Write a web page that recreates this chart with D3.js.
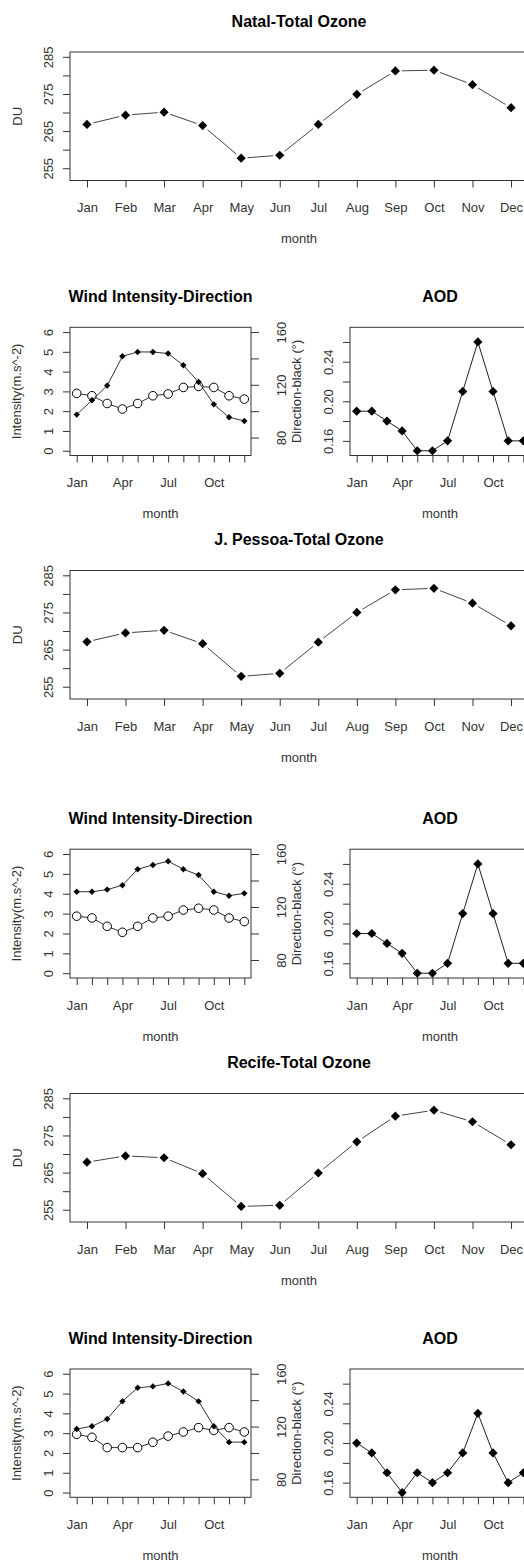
<!DOCTYPE html>
<html>
<head>
<meta charset="utf-8">
<script src="https://cdn.jsdelivr.net/npm/d3@7"></script>
<style>
  body { margin: 0; background: #fff; }
  svg { display: block; background: #fff; }
</style>
</head>
<body>
<svg width="524" height="1562"></svg>
<script>
var FONT = "'Liberation Sans', Arial, sans-serif";

// ---- data ----
var months = ["Jan", "Feb", "Mar", "Apr", "May", "Jun", "Jul", "Aug", "Sep", "Oct", "Nov", "Dec"];
var monthNums = d3.range(1, 13);
var shortMonthLabels = ["Jan", "Apr", "Jul", "Oct"];

var natalOzone = [266.8, 269.3, 270.1, 266.5, 257.7, 258.5, 266.8, 274.9, 281.2, 281.4, 277.5, 271.3];
var pessoaOzone = [267.1, 269.5, 270.2, 266.6, 257.8, 258.6, 267.0, 275.0, 281.1, 281.5, 277.5, 271.4];
var recifeOzone = [267.8, 269.5, 269.0, 264.7, 255.9, 256.2, 264.9, 273.3, 280.2, 281.8, 278.7, 272.5];

var natalIntensity = [2.90, 2.78, 2.39, 2.11, 2.39, 2.78, 2.87, 3.20, 3.25, 3.20, 2.78, 2.61];
var natalDirection = [97.4, 108.3, 119.4, 141.6, 144.9, 144.9, 143.7, 134.8, 122.1, 105.2, 95.4, 92.6];
var pessoaIntensity = [2.87, 2.78, 2.36, 2.06, 2.36, 2.78, 2.87, 3.18, 3.27, 3.18, 2.78, 2.60];
var pessoaDirection = [131.5, 131.5, 133.1, 136.4, 148.5, 151.7, 154.5, 148.5, 144.1, 131.5, 128.5, 130.3];
var recifeIntensity = [2.94, 2.79, 2.27, 2.27, 2.27, 2.54, 2.85, 3.06, 3.28, 3.14, 3.28, 3.06];
var recifeDirection = [118.2, 120.2, 125.7, 139.1, 149.4, 150.4, 152.7, 146.6, 139.1, 120.2, 108.2, 108.2];

var natalAOD = [0.19, 0.19, 0.18, 0.17, 0.15, 0.15, 0.16, 0.21, 0.26, 0.21, 0.16, 0.16];
var pessoaAOD = [0.19, 0.19, 0.18, 0.17, 0.15, 0.15, 0.16, 0.21, 0.26, 0.21, 0.16, 0.16];
var recifeAOD = [0.20, 0.19, 0.17, 0.15, 0.17, 0.16, 0.17, 0.19, 0.23, 0.19, 0.16, 0.17];

var ozoneTicks = [255, 260, 265, 270, 275, 280, 285];
var ozoneLabels = [255, 265, 275, 285];
var intensityTicks = [0, 1, 2, 3, 4, 5, 6];
var directionTicks = [80, 100, 120, 140, 160];
var directionLabels = [80, 120, 160];
var aodTicks = [0.16, 0.18, 0.20, 0.22, 0.24, 0.26];
var aodLabels = [0.16, 0.20, 0.24];

var svg = d3.select("svg");

// ---- helpers ----
function monthScale(x0, x1) {
  return d3.scaleLinear().domain([1 - 0.44, 12 + 0.44]).range([x0, x1]);
}

function frame(x0, x1, top, bottom, title, xLabels) {
  var x = monthScale(x0, x1);
  var g = svg.append("g");
  g.append("text")
    .attr("x", (x0 + x1) / 2).attr("y", top - 30.8).attr("dy", "0.35em")
    .attr("text-anchor", "middle").attr("font-family", FONT)
    .attr("font-size", 16).attr("font-weight", "bold").attr("fill", "#000")
    .text(title);
  var ax = g.append("g").attr("transform", "translate(0," + bottom + ")")
    .call(d3.axisBottom(x).tickValues(monthNums).tickSize(7).tickSizeOuter(0)
      .tickFormat(function (d) {
        var m = months[d - 1];
        return xLabels.indexOf(m) >= 0 ? m : "";
      }));
  ax.attr("font-family", FONT).attr("font-size", 13).attr("color", "#333");
  ax.select(".domain").remove();
  ax.selectAll("text").attr("y", 27.3).attr("dy", "0.35em");
  g.append("text")
    .attr("x", (x0 + x1) / 2).attr("y", bottom + 58.3).attr("dy", "0.35em")
    .attr("text-anchor", "middle").attr("font-family", FONT)
    .attr("font-size", 13).attr("fill", "#333")
    .text("month");
  g.append("rect")
    .attr("x", x0).attr("y", top).attr("width", x1 - x0).attr("height", bottom - top)
    .attr("fill", "none").attr("stroke", "#333").attr("stroke-width", 1);
  return { g: g, x: x };
}

function leftAxis(g, x0, y, ticks, labels, fmt) {
  var ax = g.append("g").attr("transform", "translate(" + x0 + ",0)")
    .call(d3.axisLeft(y).tickValues(ticks).tickSize(7)
      .tickFormat(function (d) { return labels.indexOf(d) >= 0 ? fmt(d) : ""; }));
  ax.attr("font-family", FONT).attr("font-size", 13).attr("color", "#333");
  ax.select(".domain").remove();
  ax.selectAll("text").attr("transform", "rotate(-90)")
    .attr("x", 0).attr("y", -17.5).attr("dy", 0).attr("text-anchor", "middle");
}

function rightAxis(g, x1, y, ticks, labels, fmt) {
  var ax = g.append("g").attr("transform", "translate(" + x1 + ",0)")
    .call(d3.axisRight(y).tickValues(ticks).tickSize(8)
      .tickFormat(function (d) { return labels.indexOf(d) >= 0 ? fmt(d) : ""; }));
  ax.attr("font-family", FONT).attr("font-size", 13).attr("color", "#333");
  ax.select(".domain").remove();
  ax.selectAll("text").attr("transform", "rotate(-90)")
    .attr("x", 0).attr("y", 35.2).attr("dy", 0).attr("text-anchor", "middle");
}

function vLabel(g, cx, cy, txt) {
  g.append("text")
    .attr("transform", "translate(" + (cx + 4.5) + "," + cy + ") rotate(-90)")
    .attr("text-anchor", "middle").attr("font-family", FONT)
    .attr("font-size", 13).attr("fill", "#333")
    .text(txt);
}

function diamond(r) {
  return "M0," + (-r) + "L" + r + ",0L0," + r + "L" + (-r) + ",0Z";
}

// line with small gaps around every point (R type = "b")
function gapLine(g, pts, gap, color) {
  for (var i = 0; i < pts.length - 1; i++) {
    var a = pts[i], b = pts[i + 1];
    var dx = b[0] - a[0], dy = b[1] - a[1];
    var len = Math.sqrt(dx * dx + dy * dy);
    if (len <= 2 * gap) continue;
    var ux = dx / len, uy = dy / len;
    g.append("line")
      .attr("x1", a[0] + ux * gap).attr("y1", a[1] + uy * gap)
      .attr("x2", b[0] - ux * gap).attr("y2", b[1] - uy * gap)
      .attr("stroke", color).attr("stroke-width", 1);
  }
}

function ozonePanel(top, bottom, title, values) {
  var f = frame(70, 528, top, bottom, title, months);
  var y = d3.scaleLinear().domain([251.7, 286.3]).range([bottom, top]);
  leftAxis(f.g, 70, y, ozoneTicks, ozoneLabels, d3.format("d"));
  vLabel(f.g, 17, (top + bottom) / 2, "DU");
  var pts = values.map(function (v, i) { return [f.x(i + 1), y(v)]; });
  gapLine(f.g, pts, 6.5, "#444");
  f.g.selectAll(".pt").data(pts).enter().append("path")
    .attr("transform", function (d) { return "translate(" + d[0] + "," + d[1] + ")"; })
    .attr("d", diamond(4.6)).attr("fill", "#000");
}

function windPanel(top, bottom, intensity, direction) {
  var f = frame(70, 251, top, bottom, "Wind Intensity-Direction", shortMonthLabels);
  var yL = d3.scaleLinear().domain([-0.24, 6.24]).range([bottom, top]);
  var yR = d3.scaleLinear().domain([66.4, 163.6]).range([bottom, top]);
  leftAxis(f.g, 70, yL, intensityTicks, intensityTicks, d3.format("d"));
  rightAxis(f.g, 251, yR, directionTicks, directionLabels, d3.format("d"));
  vLabel(f.g, 16.7, (top + bottom) / 2, "Intensity(m.s^-2)");
  vLabel(f.g, 296.7, (top + bottom) / 2, "Direction-black (°)");

  var line = d3.line().x(function (d, i) { return f.x(i + 1); });
  f.g.append("path").datum(intensity)
    .attr("d", line.y(function (d) { return yL(d); }))
    .attr("fill", "none").attr("stroke", "#333").attr("stroke-width", 1);
  f.g.selectAll(".open").data(intensity).enter().append("circle")
    .attr("cx", function (d, i) { return f.x(i + 1); })
    .attr("cy", function (d) { return yL(d); })
    .attr("r", 4.3).attr("fill", "#fff").attr("stroke", "#000").attr("stroke-width", 1);

  f.g.append("path").datum(direction)
    .attr("d", line.y(function (d) { return yR(d); }))
    .attr("fill", "none").attr("stroke", "#333").attr("stroke-width", 1);
  f.g.selectAll(".filled").data(direction).enter().append("path")
    .attr("transform", function (d, i) { return "translate(" + f.x(i + 1) + "," + yR(d) + ")"; })
    .attr("d", diamond(3.2)).attr("fill", "#000");
}

function aodPanel(top, bottom, values) {
  var f = frame(350, 530, top, bottom, "AOD", shortMonthLabels);
  var y = d3.scaleLinear().domain([0.1452, 0.2748]).range([bottom, top]);
  leftAxis(f.g, 350, y, aodTicks, aodLabels, d3.format(".2f"));
  var line = d3.line()
    .x(function (d, i) { return f.x(i + 1); })
    .y(function (d) { return y(d); });
  f.g.append("path").datum(values)
    .attr("d", line).attr("fill", "none").attr("stroke", "#222").attr("stroke-width", 1);
  f.g.selectAll(".pt").data(values).enter().append("path")
    .attr("transform", function (d, i) { return "translate(" + f.x(i + 1) + "," + y(d) + ")"; })
    .attr("d", diamond(4.6)).attr("fill", "#000");
}

// ---- Natal ----
ozonePanel(52, 180.5, "Natal-Total Ozone", natalOzone);
windPanel(327.3, 455.5, natalIntensity, natalDirection);
aodPanel(327.3, 455.5, natalAOD);

// ---- J. Pessoa ----
ozonePanel(570.5, 699, "J. Pessoa-Total Ozone", pessoaOzone);
windPanel(849.2, 978, pessoaIntensity, pessoaDirection);
aodPanel(849.2, 978, pessoaAOD);

// ---- Recife ----
ozonePanel(1093.5, 1222, "Recife-Total Ozone", recifeOzone);
windPanel(1369, 1497.3, recifeIntensity, recifeDirection);
aodPanel(1369, 1497.3, recifeAOD);
</script>
</body>
</html>
